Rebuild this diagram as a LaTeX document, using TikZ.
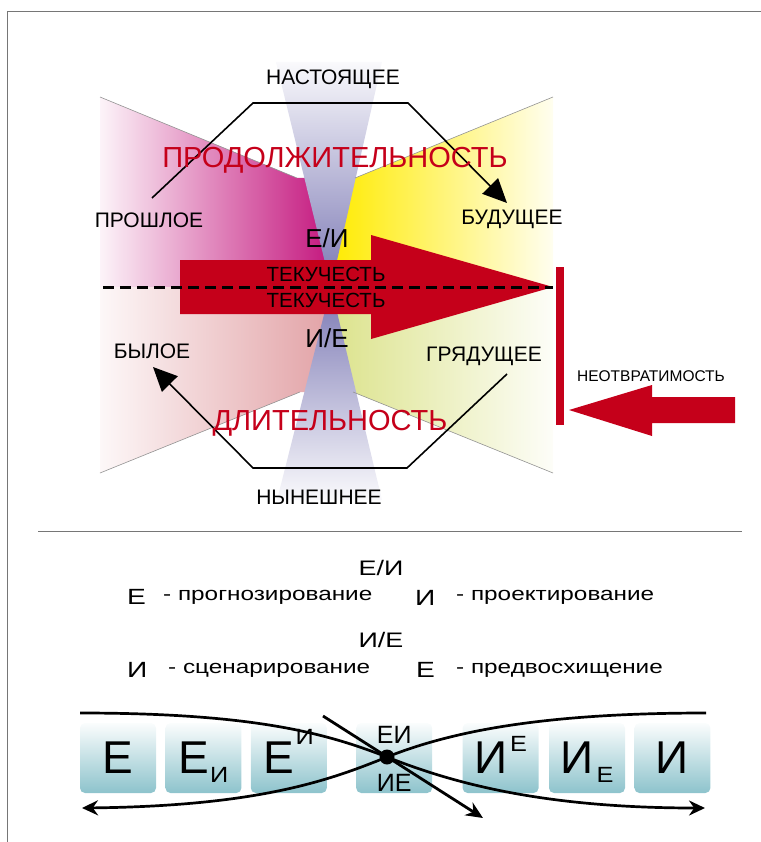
\documentclass[tikz,border=0pt]{standalone}
\usepackage{fontspec}
\usepackage{graphicx}
\setmainfont{Liberation Sans}
\usetikzlibrary{positioning,calc,arrows.meta}

\definecolor{arrowred}{HTML}{C5001A}
\definecolor{conepurple}{HTML}{7B78B4}
\definecolor{pastmag}{HTML}{C4177E}
\definecolor{pastpink}{HTML}{E2A2A6}
\definecolor{futyellow}{HTML}{FFEB00}
\definecolor{futgreen}{HTML}{DCE38C}
\definecolor{boxteal}{HTML}{8DC3CC}
\definecolor{framegray}{HTML}{767676}

\newcommand{\fsz}[1]{\fontsize{#1}{#1}\selectfont}
\newcommand{\wider}[1]{\scalebox{1.28}[1]{#1}}
\newcommand{\subidx}[1]{\smash{\raisebox{-9pt}{\fsz{22}\scalebox{1.15}[1]{#1}}}}
\newcommand{\supidx}[2]{\smash{\raisebox{#1}{\fsz{22}\scalebox{1.15}[1]{#2}}}}

\tikzset{
  timelabel/.style={inner sep=0pt, anchor=base, font=\fsz{21}},
  redlabel/.style={inner sep=0pt, anchor=base, text=arrowred, font=\fsz{29}},
  modelabel/.style={inner sep=0pt, anchor=base, font=\fsz{26}},
  flowlabel/.style={inner sep=0pt, anchor=base, font=\fsz{20.5}},
  coneedge/.style={draw=gray!85, line width=0.6pt},
  cycleline/.style={line width=1.6pt, -{Triangle[length=24pt,width=22pt]}},
  letterbox/.style={rounded corners=5pt, minimum width=76pt, minimum height=70pt,
    inner sep=0pt, top color=boxteal!4, bottom color=boxteal, font=\fsz{46}},
  midletter/.style={inner sep=0pt, font=\fsz{25}},
  bigletter/.style={inner sep=0pt, anchor=base west, font=\fsz{22}},
  definition/.style={inner sep=0pt, anchor=base west, font=\fsz{19}},
  pairlabel/.style={inner sep=0pt, anchor=base, font=\fsz{21}},
  swing/.style={line width=2.7pt},
}

\begin{document}
\begin{tikzpicture}[x=1pt,y=-1pt]
\useasboundingbox (0,0) rectangle (760,842);
\draw[framegray, line width=1pt] (7,850) -- (7,12) -- (770,12);

% hourglass of time
\coordinate (ul) at (100,97);
\coordinate (ur) at (553,97);
\coordinate (ll) at (100,473);
\coordinate (lr) at (553,473);
\coordinate (ml) at (100,287);
\coordinate (mr) at (553,287);
\coordinate (eye) at (331,287);
\coordinate (ulc) at (297,178);
\coordinate (urc) at (355,178);
\coordinate (llc) at (300,392);
\coordinate (lrc) at (353,392);

\shade[left color=pastmag!5, right color=pastmag] (ul) -- (ulc) -- (318,178) -- (eye) -- (ml) -- cycle;
\shade[left color=pastpink!8, right color=pastpink] (ml) -- (eye) -- (318,392) -- (llc) -- (ll) -- cycle;
\shade[left color=futyellow, right color=futyellow!6] (344,178) -- (urc) -- (ur) -- (mr) -- (eye) -- cycle;
\shade[left color=futgreen, right color=futgreen!6] (eye) -- (mr) -- (lr) -- (lrc) -- (344,392) -- cycle;

\shade[top color=conepurple!4, bottom color=conepurple] (276,62) -- (382,62) -- (eye) -- cycle;
\shade[top color=conepurple, bottom color=conepurple!4] (eye) -- (382,500) -- (277,500) -- cycle;

\draw[coneedge] (ul) -- (ulc);
\draw[coneedge] (urc) -- (ur);
\draw[coneedge] (ll) -- (llc);
\draw[coneedge] (lrc) -- (lr);

% cycle of past and future
\draw[cycleline] (152,198) -- (253,103) -- (408,103) -- (507,203);
\draw[cycleline] (507,374) -- (407,468) -- (253,468) -- (153,367);

% flow arrow
\fill[arrowred] (180,260) -- (371,260) -- (371,235) -- (mr) -- (371,339) -- (371,314) -- (180,314) -- cycle;
\draw[line width=3pt, dash pattern=on 11pt off 6pt] (103,287) -- (mr);
\fill[arrowred] (556,267) rectangle (564,425);
\fill[arrowred] (569,410) -- (652,385) -- (652,397) -- (735,397) -- (735,423) -- (652,423) -- (652,436) -- cycle;

\node[timelabel] (now) at (333,85) {НАСТОЯЩЕЕ};
\node[timelabel] (past) at (149,228) {ПРОШЛОЕ};
\node[timelabel] (future) at (512,225) {БУДУЩЕЕ};
\node[timelabel] (former) at (152,358) {БЫЛОЕ};
\node[timelabel] (coming) at (484,361) {ГРЯДУЩЕЕ};
\node[timelabel] (present) at (319,504) {НЫНЕШНЕЕ};
\node[redlabel] (continuity) at (335,168) {ПРОДОЛЖИТЕЛЬНОСТЬ};
\node[redlabel] (duration) at (330,430) {ДЛИТЕЛЬНОСТЬ};
\node[modelabel] (eiTop) at (327,247) {Е/И};
\node[modelabel] (ieTop) at (327,347) {И/Е};
\node[flowlabel] (flowA) at (326,281) {ТЕКУЧЕСТЬ};
\node[flowlabel] (flowB) at (326,307) {ТЕКУЧЕСТЬ};
\node[inner sep=0pt, anchor=base, font=\fsz{15.5}] (fate) at (651,381) {НЕОТВРАТИМОСТЬ};

\draw[framegray, line width=0.8pt] (38,531) -- (742,531);

% legend
\node[pairlabel] (ei) at (381,575) {\wider{Е/И}};
\node[bigletter] (e1) at (127,604) {\wider{Е}};
\node[definition] (d1) at (163,600) {\wider{- прогнозирование}};
\node[bigletter] (i1) at (415,605) {\wider{И}};
\node[definition] (d2) at (456,600) {\wider{- проектирование}};
\node[pairlabel] (ie) at (381,647) {\wider{И/Е}};
\node[bigletter] (i2) at (127,677) {\wider{И}};
\node[definition] (d3) at (168,673) {\wider{- сценарирование}};
\node[bigletter] (e2) at (416,677) {\wider{Е}};
\node[definition] (d4) at (456,673) {\wider{- предвосхищение}};

% scale of letters
\node[letterbox] (b1) at (118,758) {Е};
\node[letterbox, right=9pt of b1] (b2) {Е\kern1pt\subidx{И}};
\node[letterbox, right=9pt of b2] (b3) {Е\kern1pt\supidx{29pt}{И}};
\node[letterbox, right=29pt of b3] (b4) {};
\node[letterbox, right=30pt of b4] (b5) {И\kern3pt\supidx{22pt}{Е}};
\node[letterbox, right=10pt of b5] (b6) {И\kern3pt\subidx{Е}};
\node[letterbox, right=9pt of b6] (b7) {И};
\node[midletter] (b4top) at ([yshift=23pt]b4.center) {ЕИ};
\node[midletter] (b4bot) at ([yshift=-25pt]b4.center) {ИЕ};

\node[circle, fill, inner sep=0pt, minimum size=15pt] (hub) at (387,757) {};
\coordinate (tl) at (80,713);
\coordinate (tr) at (706,713);
\coordinate (bl) at (82,808);
\coordinate (br) at (705,808);
\coordinate (slashA) at (323,716);
\coordinate (slashB) at (483,818);

\draw[swing, -{Stealth[length=16pt,width=15pt]}] (tl) .. controls (260,713) and (330,735) .. (hub.center)
  .. controls (450,782) and (540,808) .. (br);
\draw[swing, {Stealth[length=16pt,width=15pt]}-] (bl) .. controls (260,806) and (330,780) .. (hub.center)
  .. controls (450,732) and (540,713) .. (tr);
\draw[line width=2.8pt, -{Stealth[length=17pt,width=15pt]}] (slashA) -- (slashB);
\end{tikzpicture}
\end{document}
